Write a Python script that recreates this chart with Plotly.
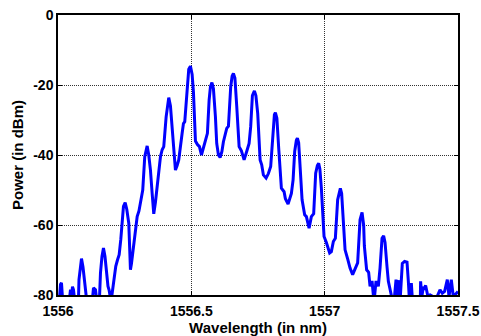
import plotly.graph_objects as go

wavelength_nm = [
    1556.0000, 1556.0056, 1556.0094, 1556.0131, 1556.0169, 1556.0431, 1556.0469, 1556.0506,
    1556.0543, 1556.0581, 1556.0618, 1556.0768, 1556.0787, 1556.0825, 1556.0881, 1556.0937,
    1556.1012, 1556.1068, 1556.1293, 1556.1331, 1556.1406, 1556.1443, 1556.1555, 1556.1593,
    1556.1649, 1556.1705, 1556.1762, 1556.1818, 1556.1874, 1556.1919, 1556.1968, 1556.2005,
    1556.2043, 1556.2118, 1556.2166, 1556.2230, 1556.2294, 1556.2354, 1556.2418, 1556.2455,
    1556.2519, 1556.2579, 1556.2654, 1556.2691, 1556.2717, 1556.2755, 1556.2841, 1556.2905,
    1556.2969, 1556.3036, 1556.3092, 1556.3178, 1556.3253, 1556.3343, 1556.3403, 1556.3467,
    1556.3531, 1556.3591, 1556.3654, 1556.3718, 1556.3778, 1556.3842, 1556.3906, 1556.3966,
    1556.4055, 1556.4153, 1556.4217, 1556.4280, 1556.4340, 1556.4404, 1556.4468, 1556.4528,
    1556.4655, 1556.4704, 1556.4753, 1556.4843, 1556.4903, 1556.4966, 1556.5030, 1556.5079,
    1556.5154, 1556.5229, 1556.5304, 1556.5379, 1556.5453, 1556.5517, 1556.5603, 1556.5667,
    1556.5716, 1556.5772, 1556.5828, 1556.5903, 1556.5952, 1556.6016, 1556.6079, 1556.6147,
    1556.6203, 1556.6327, 1556.6391, 1556.6477, 1556.6529, 1556.6578, 1556.6634, 1556.6702,
    1556.6792, 1556.6878, 1556.6979, 1556.7076, 1556.7166, 1556.7226, 1556.7290, 1556.7365,
    1556.7421, 1556.7489, 1556.7579, 1556.7639, 1556.7702, 1556.7804, 1556.7890, 1556.7976,
    1556.8066, 1556.8115, 1556.8152, 1556.8208, 1556.8276, 1556.8377, 1556.8478, 1556.8527,
    1556.8628, 1556.8752, 1556.8816, 1556.8876, 1556.8939, 1556.8977, 1556.9025, 1556.9063,
    1556.9153, 1556.9250, 1556.9314, 1556.9415, 1556.9501, 1556.9588, 1556.9663, 1556.9726,
    1556.9775, 1556.9820, 1556.9876, 1556.9977, 1557.0064, 1557.0187, 1557.0251, 1557.0326,
    1557.0401, 1557.0487, 1557.0551, 1557.0588, 1557.0637, 1557.0675, 1557.0765, 1557.0862,
    1557.0952, 1557.1049, 1557.1151, 1557.1237, 1557.1327, 1557.1402, 1557.1462, 1557.1488,
    1557.1574, 1557.1649, 1557.1702, 1557.1777, 1557.1837, 1557.1863, 1557.1926, 1557.2013,
    1557.2076, 1557.2151, 1557.2211, 1557.2264, 1557.2339, 1557.2388, 1557.2462, 1557.2526,
    1557.2612, 1557.2676, 1557.2706, 1557.2789, 1557.2837, 1557.2875, 1557.2912, 1557.2998,
    1557.3088, 1557.3137, 1557.3175, 1557.3212, 1557.3250, 1557.3287, 1557.3587, 1557.3598,
    1557.3643, 1557.3699, 1557.3737, 1557.3786, 1557.3838, 1557.3887, 1557.3962, 1557.4187,
    1557.4325, 1557.4411, 1557.4497, 1557.4599, 1557.4663, 1557.4749, 1557.4824, 1557.4947,
    1557.5000,
]

power_dbm = [
    -81, -81, -77, -76.5, -81, -81, -78.5, -81,
    -77.6, -78.5, -81, -81, -75.6, -73.5, -69.6, -72,
    -78, -81, -81, -78, -78.5, -81, -81, -73.7,
    -69, -66.6, -69, -74, -77.5, -78.7, -81, -81,
    -78.5, -74, -71.8, -70, -68.5, -64.2, -58, -54.7,
    -53.6, -55.5, -59.5, -66, -72.8, -71, -66.1, -61,
    -57.6, -56, -53.3, -50, -40.5, -37.4, -40, -44.3,
    -51, -56.8, -53.5, -49, -44.5, -40.5, -38.5, -37.6,
    -29.1, -23.6, -26, -31.9, -39, -44.3, -43, -41.4,
    -33.8, -31, -30.5, -19.6, -15.5, -14.6, -17, -22,
    -36, -37, -37.6, -40, -38, -35.7, -33.8, -24.3,
    -20.5, -19.3, -21, -29, -36.7, -40, -40.7, -39,
    -36.2, -32.4, -31.8, -20.5, -17.5, -16.7, -18, -26,
    -37.6, -38.8, -41.4, -39, -36.7, -31.9, -23, -21.7,
    -23, -28.1, -41.4, -42.8, -45.7, -46.6, -45.3, -43.3,
    -31.9, -28.5, -27.9, -29.5, -38, -49.5, -50.5, -52.5,
    -54, -51, -47.1, -39, -35.8, -35.2, -36.5, -42,
    -52.8, -57.1, -57.6, -60.9, -57.6, -56.8, -45.2, -43,
    -42.4, -44, -49.5, -63.3, -65, -68, -67.6, -64.7,
    -63.8, -52.8, -50, -49.5, -51, -56, -67.1, -69.7,
    -72.3, -74.2, -72.3, -70.8, -58.5, -56.4, -60, -66,
    -72.8, -73.5, -77.5, -76, -81, -81, -76, -77.5,
    -72.3, -63.8, -63.1, -65, -72, -76.1, -78.7, -81,
    -81, -75.6, -81, -75.8, -80.5, -76, -71, -70.4,
    -70.6, -76, -81, -81, -76.6, -81, -81, -76.1,
    -80.5, -77.7, -78, -77.3, -79, -81, -80, -81,
    -78.5, -79.5, -79, -75.6, -80.5, -75.6, -80.5, -79.5,
    -79,
]

x_ticks = [1556, 1556.5, 1557, 1557.5]
x_tick_text = ["1556", "1556.5", "1557", "1557.5"]
y_ticks = [0, -20, -40, -60, -80]
y_tick_text = ["0", "-20", "-40", "-60", "-80"]

fig = go.Figure()
fig.add_trace(go.Scatter(
    x=wavelength_nm, y=power_dbm, mode="lines",
    line=dict(color="#0000FF", width=3),
    showlegend=False, hoverinfo="skip",
))

axis_common = dict(
    automargin=False,
    showline=True, linecolor="black", linewidth=1.5, mirror="ticks",
    ticks="inside", ticklen=4, tickwidth=1, tickcolor="black",
    showgrid=True, gridcolor="#333333", gridwidth=1, griddash="1px,1px",
    zeroline=False,
    tickfont=dict(family="Liberation Sans, Arial", size=14, color="black", weight="bold"),
)

fig.update_layout(
    width=481, height=336,
    margin=dict(l=57.5, r=23.3, t=14.7, b=40.7),
    paper_bgcolor="white", plot_bgcolor="white",
    xaxis=dict(
        range=[1556, 1557.5], tickvals=x_ticks, ticktext=x_tick_text,
        ticklabelstandoff=2,
        title=dict(text="Wavelength (in nm)", standoff=0,
                   font=dict(family="Liberation Sans, Arial", size=15, color="black", weight="bold")),
        **axis_common,
    ),
    yaxis=dict(
        range=[-80, 0], tickvals=y_ticks, ticktext=y_tick_text,
        title=dict(text="Power (in dBm)", standoff=6,
                   font=dict(family="Liberation Sans, Arial", size=15, color="black", weight="bold")),
        **axis_common,
    ),
)

fig.write_html("out.html")
